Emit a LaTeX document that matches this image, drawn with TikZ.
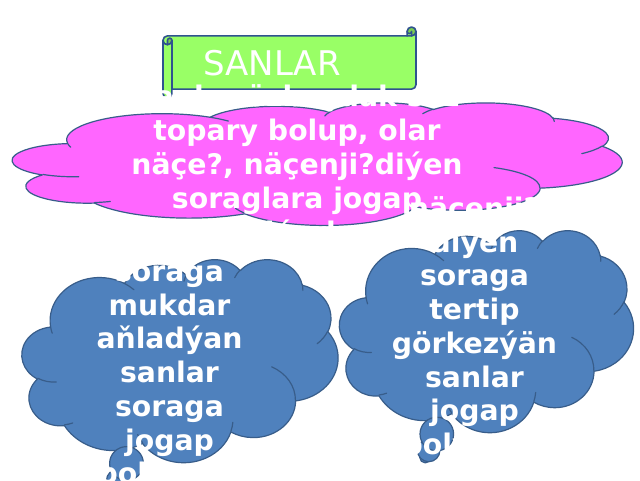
\documentclass[tikz,border=0pt]{standalone}
\usepackage{fontspec}
\setmainfont{DejaVu Sans}
\definecolor{pinkc}{HTML}{FF66FF}
\definecolor{bluec}{HTML}{4F81BD}
\definecolor{edgec}{HTML}{385D8A}
\definecolor{greenc}{HTML}{99FF66}
\definecolor{greend}{HTML}{7ACC52}
\definecolor{banedge}{HTML}{2F528F}
% OOXML-style elliptic arc: wR, hR, start angle, sweep (visual angles)
\newcommand\oa[4]{arc[x radius=#1,y radius=#2,start angle={cva(#1,#2,#3)},delta angle={#4+wra(cva(#1,#2,#3+#4)-(#3+#4))-wra(cva(#1,#2,#3)-(#3))}]}
\newcommand\cloudmain{(39.00,143.70)
 \oa{67.53}{91.90}{-190.4875}{123.7805}
 \oa{53.33}{72.67}{-144.1024}{89.9452}
 \oa{43.65}{59.45}{-145.8079}{99.7230}
 \oa{48.57}{65.95}{-130.9861}{117.2417}
 \oa{53.33}{72.73}{-78.7089}{109.0269}
 \oa{67.75}{92.20}{-46.2673}{130.2690}
 \oa{57.85}{78.67}{0.6250}{114.0333}
 \oa{67.52}{92.15}{22.4516}{115.1726}
 \oa{77.20}{105.43}{66.2426}{75.7110}
 \oa{43.60}{59.18}{-274.9421}{146.7356}
 \oa{43.45}{59.45}{-246.8285}{152.5189} -- cycle}
\newcommand\cloudcrease{(46.93,261.77) \oa{43.45}{59.45}{86.7420}{26.4295}
 (69.28,348.99) \oa{43.60}{59.18}{73.6105}{11.4475}
 (164.78,390.90) \oa{67.52}{92.15}{137.6242}{14.0811}
 (288.27,347.51) \oa{67.52}{92.15}{6.4533}{15.9984}
 (341.29,229.54) \oa{57.85}{78.67}{-70.2924}{70.9174}
 (417.98,153.54) \oa{53.33}{72.73}{30.3180}{27.7515}
 (383.24,54.26) \oa{48.57}{65.95}{-13.7443}{14.8589}
 (290.78,39.52) \oa{48.57}{65.95}{-149.1815}{18.1954}
 (221.41,47.20) \oa{43.65}{59.45}{-163.4943}{17.6864}
 (140.00,51.92) \oa{67.53}{91.90}{-66.7070}{12.3194}
 (41.27,157.89) \oa{67.53}{91.90}{157.6544}{11.8582}}
\begin{document}
\begin{tikzpicture}[x=1pt,y=-1pt,
  declare function={cva(\x,\y,\z)=atan2(\x*sin(\z),\y*cos(\z)); wra(\x)=mod(\x+540,360)-180;},
  pinkcloud/.style={fill=pinkc, draw=edgec, line width=1.2pt, line join=round},
  bluecloud/.style={fill=bluec, draw=edgec, line width=1.2pt, line join=round},
  crease/.style={draw=edgec, line width=1.2pt, line cap=round},
  txt/.style={text=white, font=\bfseries\fontsize{28.3}{34}\selectfont, inner sep=0pt, anchor=base},
  titletxt/.style={text=white, font=\fontsize{34}{40}\selectfont, inner sep=0pt, anchor=base},
  banfill/.style={fill=greenc},
  bandark/.style={fill=greend},
  banline/.style={draw=banedge, line width=1.6pt, line join=round, line cap=round}]
\useasboundingbox (0,0) rectangle (640,480);
\fill[white] (0,0) rectangle (640,480);

% ---- banner (horizontal scroll)
\path[banfill] (163,40.35) arc[start angle=180,delta angle=90,radius=4.45] -- (407.1,35.9) -- (407.1,31.45)
  arc[start angle=180,delta angle=180,radius=4.45] -- (416,84.65)
  arc[start angle=0,delta angle=90,radius=4.45] -- (171.9,89.1) -- (171.9,93.55)
  arc[start angle=0,delta angle=180,radius=4.45] -- cycle;
\path[bandark] (411.55,35.9) arc[start angle=90,delta angle=-270,radius=4.45]
  arc[start angle=180,delta angle=-180,radius=2.225] -- cycle;
\path[bandark] (167.45,44.8) arc[start angle=90,delta angle=-90,radius=4.45]
  arc[start angle=0,delta angle=-180,radius=2.225] -- cycle;
\path[banline] (163,40.35) arc[start angle=180,delta angle=90,radius=4.45] -- (407.1,35.9) -- (407.1,31.45)
  arc[start angle=180,delta angle=180,radius=4.45] -- (416,84.65)
  arc[start angle=0,delta angle=90,radius=4.45] -- (171.9,89.1) -- (171.9,93.55)
  arc[start angle=0,delta angle=180,radius=4.45] -- cycle;
\path[banline] (407.1,35.9) -- (411.55,35.9) arc[start angle=90,delta angle=-90,radius=4.45];
\path[banline] (411.55,35.9) -- (411.55,31.45) arc[start angle=0,delta angle=180,radius=2.225];
\path[banline] (167.45,44.8) -- (167.45,40.35) arc[start angle=180,delta angle=180,radius=2.225]
  arc[start angle=0,delta angle=180,radius=4.45];
\path[banline] (171.9,40.35) -- (171.9,89.1);

% ---- pink cloud
\begin{scope}[shift={(12.5,102.5)}, xscale=609.5/432, yscale=122.5/432]
  \path[pinkcloud] \cloudmain;
  \path[crease] \cloudcrease;
\end{scope}

% ---- left blue cloud callout
\begin{scope}[shift={(22,259)}, xscale=316/432, yscale=203/432]
  \path[bluecloud] \cloudmain;
  \path[crease] \cloudcrease;
\end{scope}
\path[bluecloud] (114.2,487.4) circle[radius=5.6];
\path[bluecloud] (117.8,480.5) circle[radius=11.3];
\path[bluecloud] (126.5,463.5) circle[radius=16.9];

% ---- right blue cloud callout
\begin{scope}[shift={(339.5,230)}, xscale=294/432, yscale=202/432]
  \path[bluecloud] \cloudmain;
  \path[crease] \cloudcrease;
\end{scope}
\path[bluecloud] (425.3,457.3) circle[radius=5.6];
\path[bluecloud] (428.7,450.5) circle[radius=11.2];
\path[bluecloud] (436.8,434) circle[radius=16.8];

% ---- texts
\node[titletxt] (title) at (272,75) {SANLAR};

\node[txt] (t1) at (297,106.5) {Sanlar özbaşdak söz};
\node[txt] (t2) at (297,140.5) {topary bolup, olar};
\node[txt] (t3) at (297,174.5) {näçe?, näçenji?diýen};
\node[txt] (t4) at (297,208.5) {soraglara jogap};
\node[txt] (t5) at (297,242.5) {bolýarlar};

\node[txt] (l1) at (169.5,247.8) {näçe? diýen};
\node[txt] (l2) at (169.5,281.5) {soraga};
\node[txt] (l3) at (169.5,315.2) {mukdar};
\node[txt] (l4) at (169.5,348.9) {aňladýan};
\node[txt] (l5) at (169.5,382.6) {sanlar};
\node[txt] (l6) at (169.5,416.3) {soraga};
\node[txt] (l7) at (169.5,450.0) {jogap};
\node[txt] (l8) at (169.5,483.7) {bolýarlar};

\node[txt] (r1) at (474.5,218.5) {näçenji?};
\node[txt] (r2) at (474.5,252.2) {diýen};
\node[txt] (r3) at (474.5,285.9) {soraga};
\node[txt] (r4) at (474.5,319.6) {tertip};
\node[txt] (r5) at (474.5,353.3) {görkezýän};
\node[txt] (r6) at (474.5,387.0) {sanlar};
\node[txt] (r7) at (474.5,420.7) {jogap};
\node[txt] (r8) at (474.5,454.4) {bolýarlar};
\end{tikzpicture}
\end{document}
